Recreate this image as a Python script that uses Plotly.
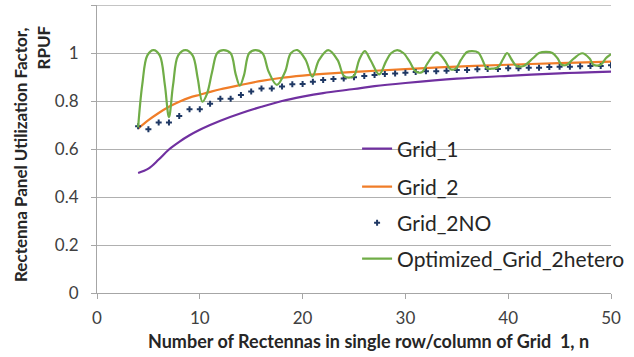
import plotly.graph_objects as go

# ---- data ----
n_int = list(range(4, 51))

grid2no = [0.695, 0.682, 0.71, 0.71, 0.737, 0.766, 0.766, 0.789, 0.809, 0.809,
           0.825, 0.84, 0.852, 0.852, 0.86, 0.87, 0.871, 0.88, 0.887, 0.892,
           0.894, 0.899, 0.904, 0.908, 0.912, 0.915, 0.918, 0.921, 0.924, 0.924,
           0.926, 0.929, 0.929, 0.932, 0.933, 0.933, 0.936, 0.936, 0.939, 0.939,
           0.942, 0.943, 0.943, 0.945, 0.946, 0.946, 0.949]

# Optimized_Grid_2hetero
opt_x = [4.0, 4.4, 4.9, 5.5, 6.1, 6.6, 7.0, 7.4, 7.9, 8.6,
         9.3, 9.8, 10.25, 10.7, 11.2, 11.7, 12.3, 13.0, 13.5, 13.9,
         14.3, 14.8, 15.4, 16.1, 16.7, 17.5, 18.3, 18.85, 19.5, 20.3,
         20.95, 21.6, 22.5, 23.4, 24.0, 24.5, 25.0, 25.5, 26.05, 26.6,
         27.45, 28.1, 28.6, 29.2, 29.8, 30.4, 31.0, 31.6, 32.15, 33.05,
         33.8, 34.4, 34.9, 35.4, 36.0, 36.5, 37.1, 37.5, 37.9, 38.5,
         39.0, 39.5, 39.9, 40.3, 40.8, 41.5, 42.4, 43.0, 43.7, 44.3,
         44.8, 45.2, 45.7, 46.4, 47.2, 47.9, 48.3, 49.0, 49.5, 50.0]
opt_y = [0.69, 0.867, 0.99, 1.012, 0.99, 0.867, 0.733, 0.867, 0.99, 1.012,
         0.99, 0.894, 0.797, 0.83, 0.922, 1.0, 1.012, 0.999, 0.91, 0.864,
         0.908, 0.999, 1.012, 0.999, 0.922, 0.867, 0.922, 0.999, 1.012, 0.971,
         0.901, 0.971, 1.012, 0.971, 0.905, 0.897, 0.905, 0.971, 1.008, 0.971,
         0.911, 0.964, 0.999, 1.012, 1.0, 0.965, 0.923, 0.92, 0.957, 1.003,
         0.971, 0.932, 0.935, 0.971, 1.004, 1.008, 1.002, 0.971, 0.937, 0.935,
         0.94, 0.975, 1.0, 0.975, 0.946, 0.946, 0.978, 1.0, 1.005, 1.0,
         0.978, 0.951, 0.951, 0.978, 0.999, 0.978, 0.951, 0.951, 0.978, 0.995]

n_line = [4, 5, 6, 7, 8, 9, 10, 11, 12, 14, 16, 18, 20, 22, 25, 27, 30, 35, 40, 45, 50]
grid1 = [0.50, 0.518, 0.556, 0.598, 0.63, 0.657, 0.68, 0.70, 0.718, 0.749, 0.776,
         0.80, 0.818, 0.833, 0.85, 0.862, 0.875, 0.893, 0.905, 0.915, 0.922]
grid2 = [0.685, 0.72, 0.75, 0.776, 0.797, 0.814, 0.826, 0.838, 0.849, 0.867, 0.884,
         0.897, 0.906, 0.913, 0.921, 0.926, 0.933, 0.943, 0.951, 0.958, 0.964]

y_ticks = [0, 0.2, 0.4, 0.6, 0.8, 1.0, 1.2]
y_ticktext = ["0", "0.2", "0.4", "0.6", "0.8", "1", ""]
x_ticks = [0, 10, 20, 30, 40, 50]

FONT = "Lato, 'Open Sans', sans-serif"
GRID = "#B0B0B0"

fig = go.Figure()
fig.add_trace(go.Scatter(x=n_line, y=grid1, mode="lines", name="Grid_1",
                         line=dict(color="#7030A0", width=2.2, shape="spline"),
                         legend="legend"))
fig.add_trace(go.Scatter(x=n_line, y=grid2, mode="lines", name="Grid_2",
                         line=dict(color="#F07D28", width=2.2, shape="spline"),
                         legend="legend2"))
fig.add_trace(go.Scatter(x=n_int, y=grid2no, mode="markers", name="Grid_2NO",
                         marker=dict(symbol="cross", size=5, color="#1F3864"),
                         legend="legend3"))
fig.add_trace(go.Scatter(x=opt_x, y=opt_y, mode="lines", name="Optimized_Grid_2hetero",
                         line=dict(color="#70AD47", width=2.2, shape="spline", smoothing=1.0),
                         legend="legend4"))


def leg(ypx):
    return dict(x=0.506, y=(293 - ypx) / 288, xanchor="left", yanchor="middle",
                bgcolor="rgba(0,0,0,0)",
                font=dict(size=21, family=FONT, color="#262626"))


fig.update_layout(
    width=634, height=357,
    margin=dict(l=97, r=23, t=5, b=64, autoexpand=False),
    plot_bgcolor="white", paper_bgcolor="white",
    font=dict(family=FONT, color="#262626", size=17),
    showlegend=True,
    legend=leg(149), legend2=leg(187), legend3=leg(223), legend4=leg(259),
    xaxis=dict(range=[0, 50], tickvals=x_ticks, showgrid=False,
               showline=True, linecolor="#A6A6A6", linewidth=1.2,
               ticks="outside", ticklen=5, tickcolor="#A6A6A6", ticklabelstandoff=4,
               tickfont=dict(size=17, family=FONT, color="#404040"), zeroline=False),
    yaxis=dict(range=[0, 1.2], tickvals=y_ticks, ticktext=y_ticktext,
               showgrid=True, gridcolor=GRID, gridwidth=1.3,
               showline=True, linecolor="#A6A6A6", linewidth=1.2,
               ticks="outside", ticklen=5, tickcolor="#A6A6A6", ticklabelstandoff=9,
               tickfont=dict(size=17, family=FONT, color="#404040"), zeroline=False),
)

fig.add_shape(type="line", xref="paper", yref="y", x0=0, x1=1, y0=1.2, y1=1.2,
              line=dict(color=GRID, width=1.3), layer="below")

fig.add_annotation(text="<b>Number of Rectennas in single row/column of Grid  1, n</b>",
                   xref="paper", yref="paper", x=(368.5 - 97) / 514, y=(293 - 341) / 288,
                   xanchor="center", yanchor="middle", showarrow=False,
                   font=dict(size=18, family=FONT, color="#262626"))
fig.add_annotation(text="<b>Rectenna Panel Utilization Factor,</b>",
                   xref="paper", yref="paper", x=(21 - 97) / 514, y=(293 - 155) / 288,
                   xanchor="center", yanchor="middle", textangle=-90, showarrow=False,
                   font=dict(size=17, family=FONT, color="#262626"))
fig.add_annotation(text="<b>RPUF</b>",
                   xref="paper", yref="paper", x=(43 - 97) / 514, y=(293 - 47.5) / 288,
                   xanchor="center", yanchor="middle", textangle=-90, showarrow=False,
                   font=dict(size=17, family=FONT, color="#262626"))

fig.write_html("out.html")
